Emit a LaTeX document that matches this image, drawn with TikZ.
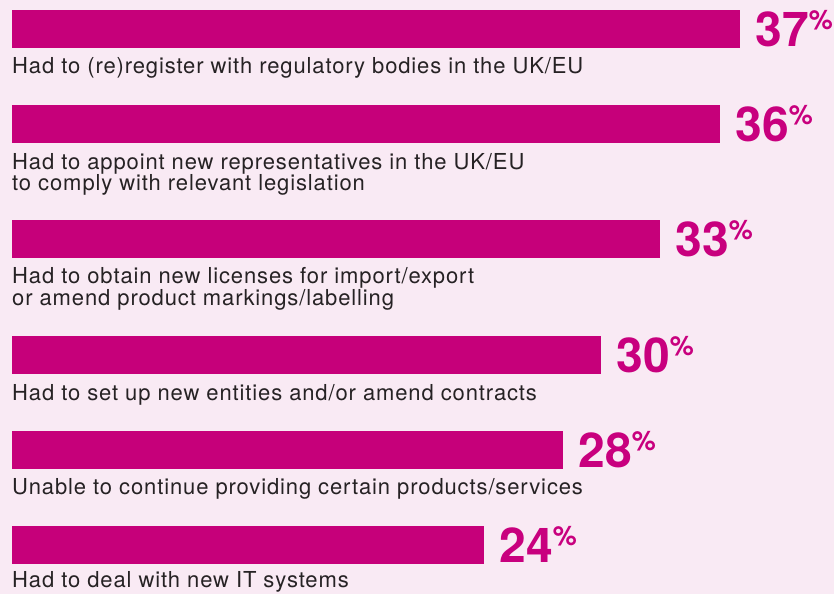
\documentclass[tikz,border=0pt]{standalone}
\usepackage{fontspec}
\setmainfont{TeX Gyre Heros}
\newfontfamily\descfont[LetterSpace=4]{TeX Gyre Heros}
\usetikzlibrary{calc}
\definecolor{bgpink}{HTML}{F9EAF4}
\definecolor{barmag}{HTML}{C6007A}
\definecolor{pctmag}{HTML}{C8007E}
\definecolor{lbltext}{HTML}{262224}
\newcommand{\pctval}[1]{#1\raisebox{17.5pt}{\fontsize{27}{27}\selectfont\%}}
\tikzset{
  barbox/.style={fill=barmag, draw=none, inner sep=0pt, minimum height=37.5pt, anchor=north west},
  pctlbl/.style={text=pctmag, inner sep=0pt, anchor=base west, font=\fontsize{48}{48}\selectfont\bfseries},
  desclbl/.style={text=lbltext, inner sep=0pt, anchor=base west, align=left, font=\descfont\fontsize{22}{21.5}\selectfont}
}
\begin{document}
\begin{tikzpicture}[x=1pt,y=-1pt]
\fill[bgpink] (0,0) rectangle (834,594);
\useasboundingbox (0,0) rectangle (834,594);
% bars
\node[barbox, minimum width=728pt] (b1) at (12,10) {};
\node[barbox, minimum width=708pt] (b2) at (12,105) {};
\node[barbox, minimum width=648pt] (b3) at (12,220) {};
\node[barbox, minimum width=589pt] (b4) at (12,336) {};
\node[barbox, minimum width=551pt] (b5) at (12,431) {};
\node[barbox, minimum width=472pt] (b6) at (12,526) {};
% values
\node[pctlbl] (p1) at ($(b1.south east)+(15,-1)$) {\pctval{37}};
\node[pctlbl] (p2) at ($(b2.south east)+(15,-1)$) {\pctval{36}};
\node[pctlbl] (p3) at ($(b3.south east)+(15,-1)$) {\pctval{33}};
\node[pctlbl] (p4) at ($(b4.south east)+(15,-1)$) {\pctval{30}};
\node[pctlbl] (p5) at ($(b5.south east)+(15,-1)$) {\pctval{28}};
\node[pctlbl] (p6) at ($(b6.south east)+(15,-1)$) {\pctval{24}};
% labels (base anchor = baseline of the last line)
\node[desclbl] (l1) at ($(b1.south west)+(0,26)$) {Had to (re)register with regulatory bodies in the UK/EU};
\node[desclbl] (l2) at ($(b2.south west)+(0,48)$) {Had to appoint new representatives in the UK/EU\\to comply with relevant legislation};
\node[desclbl] (l3) at ($(b3.south west)+(0,47.5)$) {Had to obtain new licenses for import/export\\or amend product markings/labelling};
\node[desclbl] (l4) at ($(b4.south west)+(0,26.5)$) {Had to set up new entities and/or amend contracts};
\node[desclbl] (l5) at ($(b5.south west)+(0,26)$) {Unable to continue providing certain products/services};
\node[desclbl] (l6) at ($(b6.south west)+(0,24)$) {Had to deal with new IT systems};
\end{tikzpicture}
\end{document}
